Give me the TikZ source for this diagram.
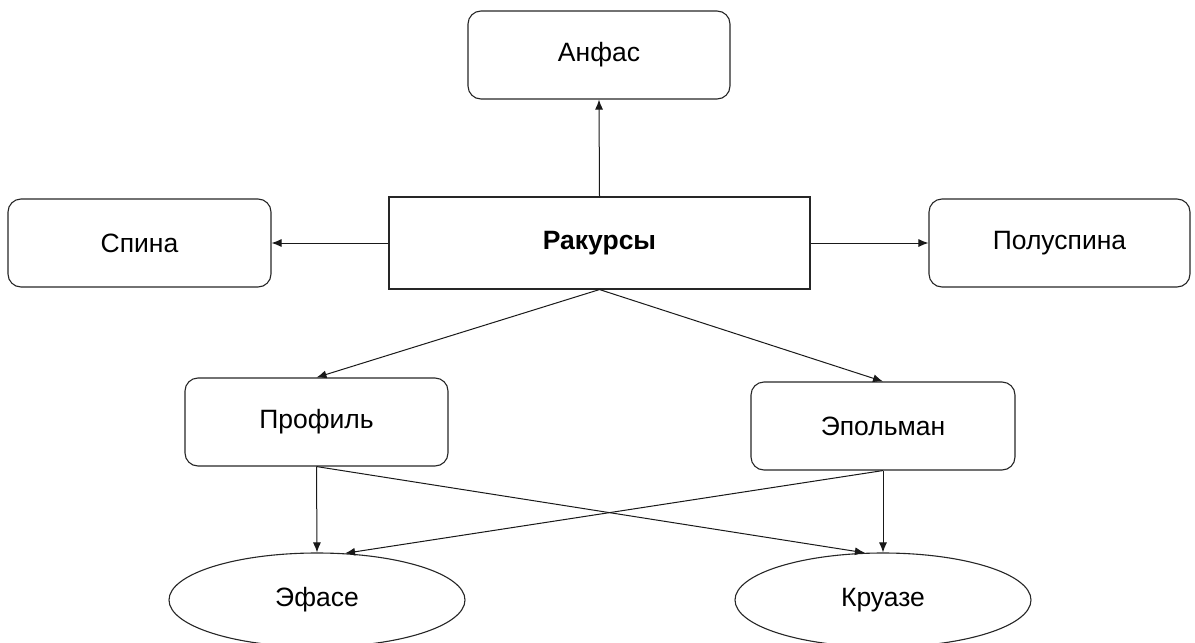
\documentclass[tikz,border=0pt]{standalone}
\usepackage{fontspec}
\setmainfont{Liberation Sans}
\usetikzlibrary{arrows.meta,shapes.geometric}
\begin{document}
\begin{tikzpicture}[x=1pt,y=-1pt,
  every node/.style={font=\fontsize{26.5}{30}\selectfont, text=black},
  rbox/.style={draw=black!85, line width=1.1pt, rounded corners=13pt, minimum width=262pt, minimum height=88pt, inner sep=0pt},
  mainbox/.style={draw=black!85, line width=1.1pt, minimum width=421pt, minimum height=92pt, inner sep=0pt, font=\fontsize{26.5}{30}\selectfont\bfseries},
  ell/.style={draw=black!85, line width=1.1pt, ellipse, minimum width=296pt, minimum height=94pt, inner sep=0pt},
  arr/.style={draw=black!90, line width=1pt, -{Latex[length=10pt,width=8pt]}}]
\useasboundingbox (0,0) rectangle (1195,643);
\node[rbox] (anfas) at (599,55) {Анфас};
\node[mainbox] (rak) at (599.5,243) {Ракурсы};
\node[rbox, minimum width=263pt] (spina) at (139.5,243) {Спина};
\node[rbox, minimum width=261pt] (poluspina) at (1059.5,243) {Полуспина};
\node[rbox, minimum width=263pt] (profil) at (316.5,422) {Профиль};
\node[rbox, minimum width=264pt] (epol) at (883,426) {Эпольман};
\node[ell] (efase) at (317,600) {Эфасе};
\node[ell] (kruaze) at (883,600) {Круазе};
\draw[arr] (rak.north) -- (anfas.south);
\draw[arr] (rak.west) -- (spina.east);
\draw[arr] (rak.east) -- (poluspina.west);
\draw[arr] (rak.south) -- (profil.north);
\draw[arr] (rak.south) -- (epol.north);
\draw[arr] (profil.south) -- (efase.north);
\draw[arr] (profil.south) -- (kruaze.111);
\draw[arr] (epol.south) -- (kruaze.north);
\draw[arr] (epol.south) -- (efase.59);
\end{tikzpicture}
\end{document}
